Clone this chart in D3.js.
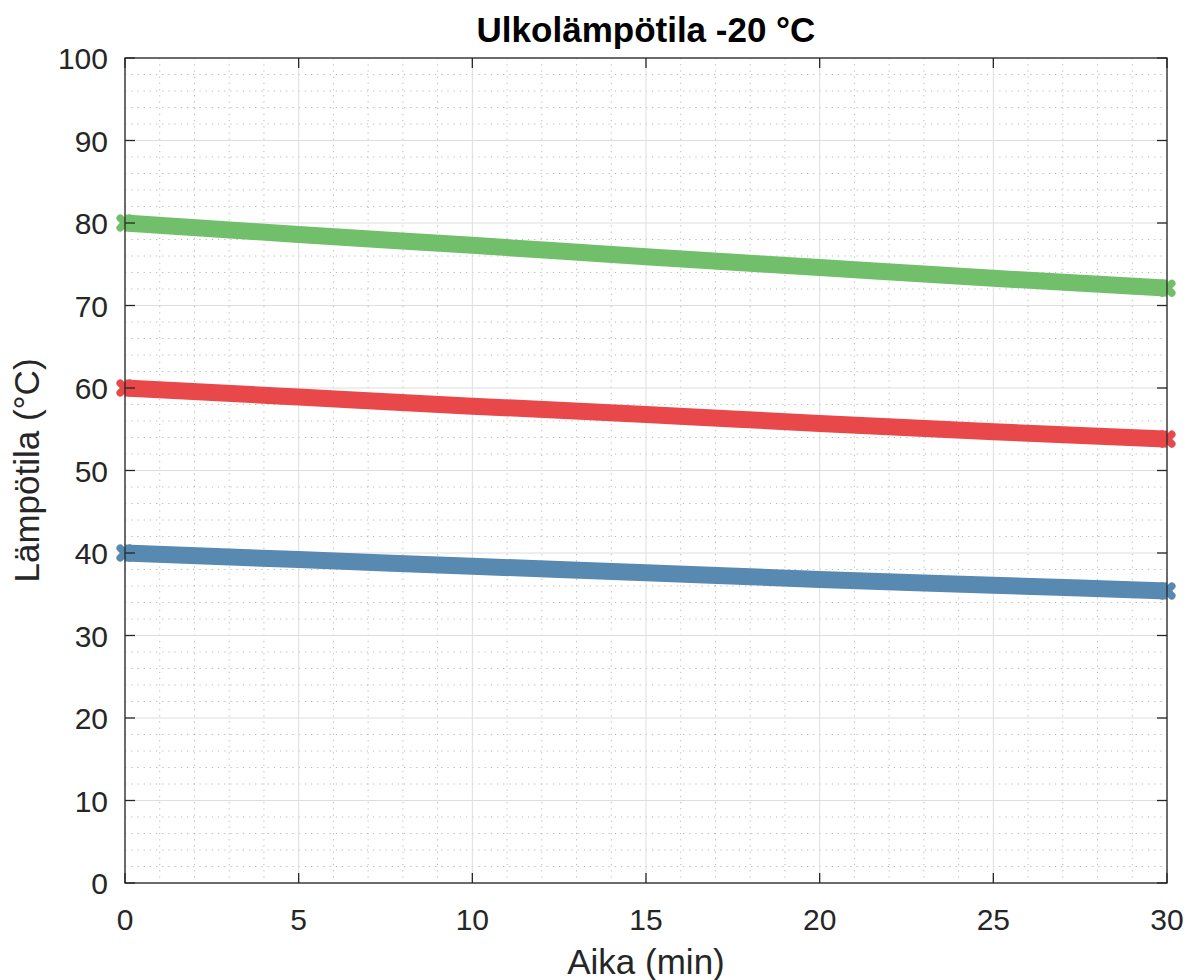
<!DOCTYPE html>
<html>
<head>
<meta charset="utf-8">
<script src="https://cdn.jsdelivr.net/npm/d3@7"></script>
<style>
  html, body { margin: 0; padding: 0; background: #ffffff; }
  svg { display: block; }
  text { font-family: "Liberation Sans", Arial, Helvetica, sans-serif; }
</style>
</head>
<body>
<div id="chart"></div>
<script>
// Time axis (minutes) and temperatures of the three water tanks
const time = [0, 5, 10, 15, 20, 25, 30];
const tempHigh = [80, 78.6, 77.3, 75.9, 74.6, 73.3, 72.1];
const tempMid  = [60, 58.9, 57.8, 56.8, 55.7, 54.7, 53.8];
const tempLow  = [40, 39.2, 38.4, 37.6, 36.8, 36.1, 35.4];

const xTicks = [0, 5, 10, 15, 20, 25, 30];
const yTicks = [0, 10, 20, 30, 40, 50, 60, 70, 80, 90, 100];
const xMinor = d3.range(0, 31, 1).filter(v => v % 5 !== 0);
const yMinor = d3.range(0, 101, 2).filter(v => v % 10 !== 0);

const titleText = "Ulkolämpötila -20 °C";
const xLabelText = "Aika (min)";
const yLabelText = "Lämpötila (°C)";

const series = [
  { values: tempHigh, color: "#72bf6b" },
  { values: tempMid,  color: "#e8484a" },
  { values: tempLow,  color: "#5889b0" }
];

const W = 1188, H = 980;
const plotLeft = 125, plotRight = 1167, plotTop = 58, plotBottom = 883;

const svg = d3.select("#chart").append("svg")
  .attr("width", W).attr("height", H);

const x = d3.scaleLinear().domain([0, 30]).range([plotLeft, plotRight]);
const y = d3.scaleLinear().domain([0, 100]).range([plotBottom, plotTop]);

// minor grid (dotted)
const grid = svg.append("g");
grid.selectAll(".mx").data(xMinor).join("line")
  .attr("x1", d => x(d)).attr("x2", d => x(d))
  .attr("y1", plotTop).attr("y2", plotBottom)
  .attr("stroke", "#b8b8b8").attr("stroke-width", 1)
  .attr("stroke-dasharray", "1.2,5");
grid.selectAll(".my").data(yMinor).join("line")
  .attr("x1", plotLeft).attr("x2", plotRight)
  .attr("y1", d => y(d)).attr("y2", d => y(d))
  .attr("stroke", "#b8b8b8").attr("stroke-width", 1)
  .attr("stroke-dasharray", "1.2,5");

// major grid (solid, light)
grid.selectAll(".gx").data(xTicks).join("line")
  .attr("x1", d => x(d)).attr("x2", d => x(d))
  .attr("y1", plotTop).attr("y2", plotBottom)
  .attr("stroke", "#dedede").attr("stroke-width", 1);
grid.selectAll(".gy").data(yTicks).join("line")
  .attr("x1", plotLeft).attr("x2", plotRight)
  .attr("y1", d => y(d)).attr("y2", d => y(d))
  .attr("stroke", "#dedede").attr("stroke-width", 1);

// data lines: thick band closed by cross markers at the ends
const line = d3.line()
  .x((d, i) => x(time[i]))
  .y(d => y(d))
  .curve(d3.curveMonotoneX);

const cross = s => `M${-s},${-s}L${s},${s}M${-s},${s}L${s},${-s}`;

series.forEach(s => {
  svg.append("path")
    .attr("d", line(s.values))
    .attr("fill", "none")
    .attr("stroke", s.color)
    .attr("stroke-width", 17)
    .attr("stroke-linecap", "butt");
  svg.append("g").selectAll("path")
    .data([0, s.values.length - 1])
    .join("path")
    .attr("transform", i => `translate(${x(time[i])},${y(s.values[i])})`)
    .attr("d", cross(4.8))
    .attr("fill", "none")
    .attr("stroke", s.color)
    .attr("stroke-width", 7.5)
    .attr("stroke-linecap", "round");
});

// axes box with inward ticks
const axisColor = "#262626";
const tickLen = 10;
const frame = svg.append("g");
frame.append("rect")
  .attr("x", plotLeft).attr("y", plotTop)
  .attr("width", plotRight - plotLeft).attr("height", plotBottom - plotTop)
  .attr("fill", "none").attr("stroke", axisColor).attr("stroke-width", 1.3);

frame.selectAll(".tb").data(xTicks).join("line")
  .attr("x1", d => x(d)).attr("x2", d => x(d))
  .attr("y1", plotBottom).attr("y2", plotBottom - tickLen)
  .attr("stroke", axisColor).attr("stroke-width", 1.3);
frame.selectAll(".tt").data(xTicks).join("line")
  .attr("x1", d => x(d)).attr("x2", d => x(d))
  .attr("y1", plotTop).attr("y2", plotTop + tickLen)
  .attr("stroke", axisColor).attr("stroke-width", 1.3);
frame.selectAll(".tl").data(yTicks).join("line")
  .attr("x1", plotLeft).attr("x2", plotLeft + tickLen)
  .attr("y1", d => y(d)).attr("y2", d => y(d))
  .attr("stroke", axisColor).attr("stroke-width", 1.3);
frame.selectAll(".tr").data(yTicks).join("line")
  .attr("x1", plotRight).attr("x2", plotRight - tickLen)
  .attr("y1", d => y(d)).attr("y2", d => y(d))
  .attr("stroke", axisColor).attr("stroke-width", 1.3);

// tick labels
svg.append("g").selectAll("text").data(xTicks).join("text")
  .attr("x", d => x(d)).attr("y", 930)
  .attr("text-anchor", "middle")
  .attr("font-size", 30).attr("fill", axisColor)
  .text(d => d);
svg.append("g").selectAll("text").data(yTicks).join("text")
  .attr("x", 108).attr("y", d => y(d) + 11)
  .attr("text-anchor", "end")
  .attr("font-size", 30).attr("fill", axisColor)
  .text(d => d);

// title and axis labels
svg.append("text")
  .attr("x", (plotLeft + plotRight) / 2).attr("y", 42)
  .attr("text-anchor", "middle")
  .attr("font-size", 35).attr("font-weight", "bold").attr("fill", "#000")
  .text(titleText);
svg.append("text")
  .attr("x", (plotLeft + plotRight) / 2).attr("y", 974)
  .attr("text-anchor", "middle")
  .attr("font-size", 35).attr("fill", axisColor)
  .text(xLabelText);
svg.append("text")
  .attr("transform", `translate(39,${(plotTop + plotBottom) / 2}) rotate(-90)`)
  .attr("text-anchor", "middle")
  .attr("font-size", 35).attr("fill", axisColor)
  .text(yLabelText);
</script>
</body>
</html>
